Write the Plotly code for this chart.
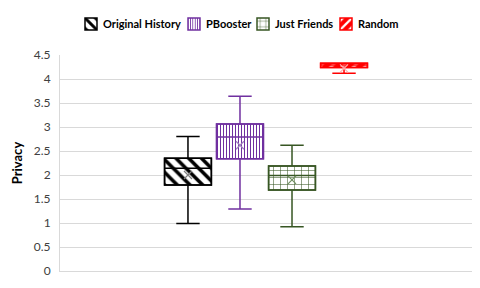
import plotly.graph_objects as go

series = ["Original History", "PBooster", "Just Friends", "Random"]
positions = [0, 1, 2, 3]
q1 = [1.79, 2.34, 1.69, 4.24]
median = [2.14, 2.79, 1.99, 4.29]
q3 = [2.35, 3.06, 2.19, 4.33]
lower = [0.99, 1.29, 0.92, 4.12]
upper = [2.80, 3.64, 2.62, 4.33]
mean = [2.00, 2.62, 1.90, 4.22]

colors = ["#000000", "#7030A0", "#375623", "#FF0000"]
shapes = ["\\", "|", "+", "/"]
fg = ["#000000", "#7030A0", "#375623", "#FFFFFF"]
bg = ["#FFFFFF", "#FFFFFF", "#FFFFFF", "#FF0000"]
psize = [9, 3, 7, 8]
solid = [0.4, 0.35, 0.15, 0.35]
mean_col = ["#7f7f7f", "#9f7fbf", "#6f8f5f", "#ffb0b0"]
legend_ids = ["legend", "legend2", "legend3", "legend4"]
legend_sym_x = [86, 189, 258, 341]
legend_text_x = [101, 204, 273, 356]

BW = 0.9
fig = go.Figure()
for i, name in enumerate(series):
    fig.add_trace(go.Bar(
        x=[positions[i]], y=[q3[i] - q1[i]], base=[q1[i]], width=BW,
        name=name, legend=legend_ids[i],
        marker=dict(color=bg[i], line=dict(color=colors[i], width=1.5),
                    pattern=dict(shape=shapes[i], fgcolor=fg[i], bgcolor=bg[i],
                                 size=psize[i], solidity=solid[i], fillmode="replace")),
        showlegend=True, hoverinfo="skip",
    ))
for i, name in enumerate(series):
    fig.add_trace(go.Box(
        x=[positions[i]], q1=[q1[i]], median=[median[i]], q3=[q3[i]],
        lowerfence=[lower[i]], upperfence=[upper[i]],
        width=BW, whiskerwidth=0.5, fillcolor="rgba(0,0,0,0)",
        line=dict(color=colors[i], width=1.5), showlegend=False,
    ))
    fig.add_trace(go.Scatter(
        x=[positions[i]], y=[mean[i]], mode="markers",
        marker=dict(symbol="x-thin-open", size=8, color=mean_col[i],
                    line=dict(color=mean_col[i], width=1.2)),
        showlegend=False,
    ))

# legend swatches come from plotly legends; their labels are drawn as annotations
leg_common = dict(orientation="h", xref="container", yref="container",
                  xanchor="left", yanchor="middle", y=1 - 24 / 288,
                  font=dict(size=1, color="rgba(0,0,0,0)"),
                  itemwidth=30, bgcolor="rgba(0,0,0,0)", borderwidth=0)
legends = {}
for i, lid in enumerate(legend_ids):
    legends[lid] = dict(leg_common, x=(legend_sym_x[i] - 15) / 480)

annotations = []
for i, name in enumerate(series):
    annotations.append(dict(
        text="<b>" + name + "</b>", xref="paper", yref="paper",
        x=(legend_text_x[i] - 60) / 412, y=1 + 31 / 216,
        xanchor="left", yanchor="middle", showarrow=False,
        font=dict(size=11, color="#000000", family="Lato, sans-serif"),
    ))

fig.update_layout(
    width=480, height=288,
    margin=dict(l=60, r=8, t=55, b=17, autoexpand=False),
    paper_bgcolor="white", plot_bgcolor="white",
    barmode="overlay", boxmode="overlay",
    font=dict(family="Lato, Open Sans, sans-serif", size=12, color="#404040"),
    xaxis=dict(range=[-2.46, 5.46], showticklabels=False, showgrid=False,
               zeroline=False, showline=True, linecolor="#d9d9d9", mirror=False),
    yaxis=dict(range=[0, 4.5], dtick=0.5, showgrid=True, gridcolor="#d9d9d9",
               zeroline=False, showline=True, linecolor="#d9d9d9",
               ticklabelstandoff=6,
               tickfont=dict(size=12, color="#404040"),
               title=dict(text="<b>Privacy</b>", font=dict(size=13, color="#000000"), standoff=8)),
    annotations=annotations,
    **legends,
)
fig.write_html("out.html", config={"displayModeBar": False},
               post_script="document.body.style.margin='0';document.body.style.overflow='hidden';")
